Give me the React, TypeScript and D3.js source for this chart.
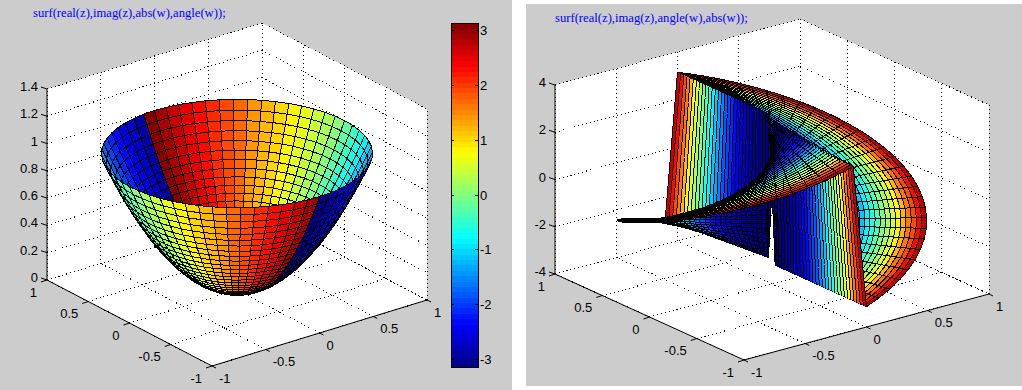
import React from "react";
import * as d3 from "d3";

// Chart content
const leftTitle = "surf(real(z),imag(z),abs(w),angle(w));";
const rightTitle = "surf(real(z),imag(z),angle(w),abs(w));";
const xyTicks = [-1, -0.5, 0, 0.5, 1];
const leftZTicks = [0, 0.2, 0.4, 0.6, 0.8, 1, 1.2, 1.4];
const rightZTicks = [-4, -2, 0, 2, 4];
const colorbarTicks = [-3, -2, -1, 0, 1, 2, 3];
const jetStops = ["#00007f", "#0000ff", "#00ffff", "#ffff00", "#ff0000", "#7f0000"];
const jetDomain = [0, 1 / 8, 3 / 8, 5 / 8, 7 / 8, 1];
const gridM = 30; // cplxgrid(m)
const levels = 64;

const jetScale = d3.scaleLinear<string>().domain(jetDomain).range(jetStops).interpolate(d3.interpolateRgb);
const jet = (t: number) => jetScale((Math.min(levels - 1, Math.max(0, Math.floor(t * levels))) + 0.5) / levels);

type V = { x: number; y: number; z: number; c: number };

function buildGrid(zOf: (a: number, m: number) => number, cOf: (a: number, m: number) => number): V[][] {
  const radii = d3.range(0, gridM + 1).map((i) => i / gridM);
  const thetas = d3.range(-gridM, gridM + 1).map((j) => (Math.PI * j) / gridM);
  return radii.map((r) =>
    thetas.map((t) => {
      const x = r * Math.cos(t);
      const y = r * Math.sin(t);
      const wr = x * x - y * y;
      const wi = 2 * x * y;
      const a = Math.atan2(wi, wr);
      const m = Math.hypot(wr, wi);
      return { x, y, z: zOf(a, m), c: cOf(a, m) };
    })
  );
}

type Cfg = {
  bottom: [number, number];
  right: [number, number];
  left: [number, number];
  zDomain: [number, number];
  zPx: number;
  zTicks: number[];
  title: string;
  titlePos: [number, number];
  grid: V[][];
  cDomain: [number, number];
};

function Panel({ cfg }: { cfg: Cfg }) {
  const [bx, by] = cfg.bottom;
  const sxX = d3.scaleLinear().domain([-1, 1]).range([0, cfg.right[0] - bx]);
  const sxY = d3.scaleLinear().domain([-1, 1]).range([0, cfg.left[0] - bx]);
  const syX = d3.scaleLinear().domain([-1, 1]).range([0, cfg.right[1] - by]);
  const syY = d3.scaleLinear().domain([-1, 1]).range([0, cfg.left[1] - by]);
  const syZ = d3.scaleLinear().domain(cfg.zDomain).range([0, -cfg.zPx]);
  const norm = d3.scaleLinear().domain(cfg.zDomain).range([-1, 1]);
  const cNorm = d3.scaleLinear().domain(cfg.cDomain).range([0, 1]);
  const [zMin, zMax] = cfg.zDomain;

  const P = (x: number, y: number, z: number): [number, number] => [
    bx + sxX(x) + sxY(y),
    by + syX(x) + syY(y) + syZ(z),
  ];
  const depth = (x: number, y: number, z: number) => -0.527 * x - 0.687 * y + 0.5 * norm(z);
  const line = d3.line();
  const seg = (a: [number, number, number], b: [number, number, number]) => line([P(...a), P(...b)]) as string;
  const poly = (pts: [number, number][]) => (line(pts) as string) + "Z";

  // wall + floor polygon
  const wallPath = poly([
    P(-1, -1, zMin), P(1, -1, zMin), P(1, -1, zMax), P(1, 1, zMax), P(-1, 1, zMax), P(-1, 1, zMin),
  ]);
  const gridLines: string[] = [];
  xyTicks.forEach((t) => {
    gridLines.push(seg([t, -1, zMin], [t, 1, zMin]), seg([t, 1, zMin], [t, 1, zMax]));
    gridLines.push(seg([-1, t, zMin], [1, t, zMin]), seg([1, t, zMin], [1, t, zMax]));
  });
  cfg.zTicks.forEach((z) => {
    gridLines.push(seg([-1, 1, z], [1, 1, z]), seg([1, 1, z], [1, -1, z]));
  });

  // Painter's list
  type Item = { d: number; p: string; fill: string; stroke: string };
  const items: Item[] = [];
  const g = cfg.grid;
  const wallSteps = 24;
  const edgeBias = 0.035;
  for (let i = 0; i < g.length - 1; i++) {
    for (let j = 0; j < g[i].length - 1; j++) {
      const a = g[i][j], b = g[i + 1][j], c = g[i + 1][j + 1], e = g[i][j + 1];
      const col = jet(cNorm(a.c));
      const isWall = Math.abs(a.z - e.z) > Math.PI && cfg.zDomain[0] < 0;
      if (!isWall) {
        const d = (depth(a.x, a.y, a.z) + depth(b.x, b.y, b.z) + depth(c.x, c.y, c.z) + depth(e.x, e.y, e.z)) / 4;
        items.push({ d, p: poly([P(a.x, a.y, a.z), P(b.x, b.y, b.z), P(c.x, c.y, c.z), P(e.x, e.y, e.z)]), fill: col, stroke: "#000" });
      } else {
        const lerp = (u: V, v: V, t: number): [number, number, number] => [
          u.x + (v.x - u.x) * t, u.y + (v.y - u.y) * t, u.z + (v.z - u.z) * t,
        ];
        for (let k = 0; k < wallSteps; k++) {
          const t0 = k / wallSteps, t1 = (k + 1) / wallSteps;
          const p0 = lerp(a, e, t0), p1 = lerp(b, c, t0), p2 = lerp(b, c, t1), p3 = lerp(a, e, t1);
          const d = (depth(...p0) + depth(...p1) + depth(...p2) + depth(...p3)) / 4;
          items.push({ d, p: poly([P(...p0), P(...p1), P(...p2), P(...p3)]), fill: col, stroke: "none" });
          items.push({ d: (depth(...p0) + depth(...p3)) / 2 + edgeBias, p: seg(p0, p3), fill: "none", stroke: "#000" });
          items.push({ d: (depth(...p1) + depth(...p2)) / 2 + edgeBias, p: seg(p1, p2), fill: "none", stroke: "#000" });
        }
      }
    }
  }
  items.sort((u, v) => u.d - v.d);

  const ticksZ = cfg.zTicks.map((z) => P(-1, 1, z));
  return (
    <g>
      <path d={wallPath} fill="#fff" stroke="none" shapeRendering="crispEdges" />
      {gridLines.map((d, i) => (
        <path key={i} d={d} fill="none" stroke="#000" strokeDasharray="1 3" shapeRendering="crispEdges" />
      ))}
      {/* axis lines */}
      <path d={seg([-1, 1, zMin], [-1, 1, zMax])} stroke="#000" fill="none" />
      <path d={line([P(-1, 1, zMin), P(-1, -1, zMin), P(1, -1, zMin)]) as string} stroke="#000" fill="none" />
      {/* ticks */}
      {ticksZ.map(([x, y], i) => (
        <path key={i} d={`M${x},${y}L${x - 6},${y - 2}`} stroke="#000" fill="none" />
      ))}
      {xyTicks.map((t, i) => {
        const [x1, y1] = P(t, -1, zMin);
        const [x2, y2] = P(-1, t, zMin);
        return (
          <g key={i}>
            <path d={`M${x1},${y1}L${x1 + 4},${y1 + 2}`} stroke="#000" fill="none" />
            <path d={`M${x2},${y2}L${x2 - 6},${y2 + 2}`} stroke="#000" fill="none" />
          </g>
        );
      })}
      {/* surface */}
      {items.map((it, i) => (
        <path key={i} d={it.p} fill={it.fill} stroke={it.stroke} strokeWidth={1} shapeRendering="crispEdges" />
      ))}
      {/* tick labels */}
      <g fontFamily="'Liberation Sans', Arial, sans-serif" fontSize={13} fill="#000">
        {cfg.zTicks.map((z, i) => {
          const [x, y] = P(-1, 1, z);
          return <text key={i} x={x - 9} y={y - 2.5} textAnchor="end" dominantBaseline="central">{z}</text>;
        })}
        {xyTicks.map((t, i) => {
          const [x, y] = P(t, -1, zMin);
          return <text key={i} x={x + 7} y={y + 12} dominantBaseline="central">{t}</text>;
        })}
        {xyTicks.map((t, i) => {
          const [x, y] = P(-1, t, zMin);
          return <text key={i} x={x - 10} y={y + 12} textAnchor="end" dominantBaseline="central">{t}</text>;
        })}
      </g>
      <text x={cfg.titlePos[0]} y={cfg.titlePos[1]} fill="#0000ff" fontFamily="'Liberation Serif', 'Times New Roman', serif" fontSize={12.65} dominantBaseline="central">
        {cfg.title}
      </text>
    </g>
  );
}

function Colorbar() {
  const [x0, x1, yTop, yBot] = [451, 478, 23, 367];
  const y = d3.scaleLinear().domain([-Math.PI, Math.PI]).range([yBot, yTop]);
  const cells = d3.range(levels);
  const step = (yBot - yTop) / levels;
  return (
    <g>
      {cells.map((i) => (
        <rect key={i} x={x0} width={x1 - x0} y={yBot - (i + 1) * step} height={step + 0.5} fill={jet((i + 0.5) / levels)} shapeRendering="crispEdges" />
      ))}
      <rect x={x0} y={yTop} width={x1 - x0} height={yBot - yTop} fill="none" stroke="#000" shapeRendering="crispEdges" />
      {colorbarTicks.map((t) => (
        <g key={t}>
          <path d={`M${x0},${y(t)}h3M${x1},${y(t)}h-3`} stroke="#000" shapeRendering="crispEdges" />
          <text x={x1 + 2} y={y(t)} fontFamily="'Liberation Sans', Arial, sans-serif" fontSize={13} dominantBaseline="central">{t}</text>
        </g>
      ))}
    </g>
  );
}

export default function App() {
  const leftGrid = buildGrid((_a, m) => m, (a) => a);
  const rightGrid = buildGrid((a) => a, (_a, m) => m);
  return (
    <svg width={1022} height={390} style={{ position: "fixed", left: 0, top: 0, background: "#fff" }}>
      <rect x={0} y={0} width={512} height={390} fill="#cccccc" />
      <rect x={526} y={4} width={496} height={382} fill="#cccccc" />
      <Panel cfg={{
        bottom: [212, 366], right: [427, 300], left: [47, 280],
        zDomain: [0, 1.4], zPx: 191, zTicks: leftZTicks, title: leftTitle, titlePos: [33, 13],
        grid: leftGrid, cDomain: [-Math.PI, Math.PI],
      }} />
      <Colorbar />
      <Panel cfg={{
        bottom: [744, 360], right: [989, 294], left: [555, 274],
        zDomain: [-4, 4], zPx: 189, zTicks: rightZTicks, title: rightTitle, titlePos: [555, 18],
        grid: rightGrid, cDomain: [0, 1],
      }} />
    </svg>
  );
}
